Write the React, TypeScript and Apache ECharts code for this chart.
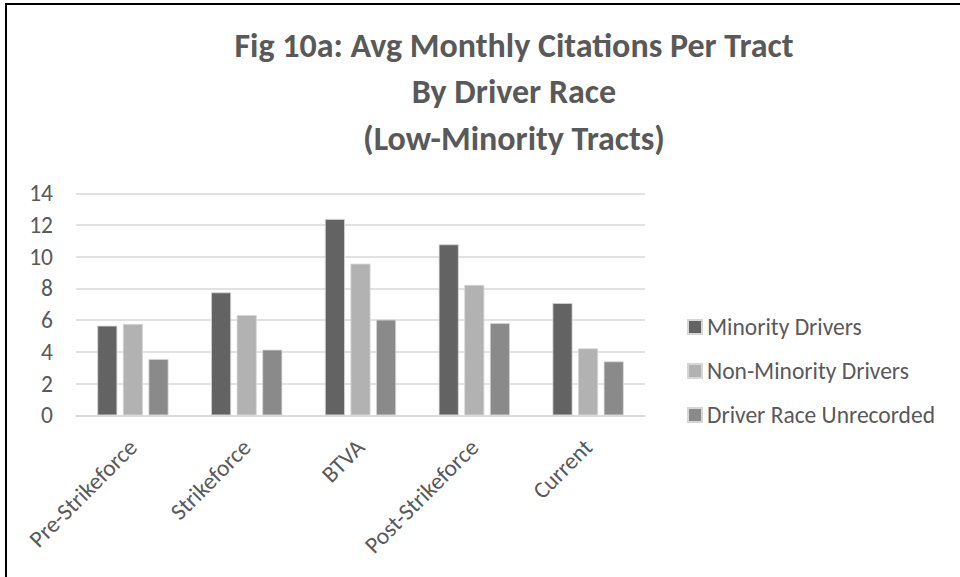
import React, { useEffect, useRef } from "react";
import * as echarts from "echarts";

const categories = ["Pre-Strikeforce", "Strikeforce", "BTVA", "Post-Strikeforce", "Current"];
const minorityDrivers = [5.65, 7.75, 12.38, 10.78, 7.08];
const nonMinorityDrivers = [5.76, 6.32, 9.56, 8.22, 4.22];
const raceUnrecorded = [3.55, 4.14, 6.03, 5.82, 3.4];
const seriesNames = ["Minority Drivers", "Non-Minority Drivers", "Driver Race Unrecorded"];
const seriesColors = ["#636363", "#b2b2b2", "#8a8a8a"];
const yTicks = { min: 0, max: 14, interval: 2 };

const FONT = "Carlito, 'Liberation Sans Narrow', 'Open Sans', sans-serif";

export default function App() {
  const ref = useRef<HTMLDivElement>(null);
  useEffect(() => {
    document.body.style.margin = "0";
    if (!ref.current) return;
    const chart = echarts.init(ref.current, undefined, { renderer: "svg" });
    const data = [minorityDrivers, nonMinorityDrivers, raceUnrecorded];
    chart.setOption({
      animation: false,
      backgroundColor: "#ffffff",
      title: {
        text: "Fig 10a: Avg Monthly Citations Per Tract\nBy Driver Race\n(Low-Minority Tracts)",
        left: 514,
        top: 22,
        padding: 0,
        textAlign: "center",
        textStyle: {
          fontFamily: FONT,
          fontWeight: "bold",
          fontSize: 34,
          lineHeight: 46.5,
          color: "#595959",
        },
      },
      graphic: [
        {
          type: "rect",
          shape: { x: 6, y: 4, width: 1000, height: 700 },
          style: { fill: "none", stroke: "#000000", lineWidth: 2 },
          silent: true,
        },
      ],
      legend: {
        orient: "vertical",
        left: 687,
        top: 315,
        padding: 0,
        itemWidth: 14,
        itemHeight: 14,
        itemGap: 20,
        icon: "rect",
        textStyle: { fontFamily: FONT, fontSize: 23.5, lineHeight: 24, color: "#595959" },
        data: seriesNames,
      },
      grid: { left: 76, top: 193.3, width: 569, height: 222, containLabel: false },
      xAxis: {
        type: "category",
        data: categories,
        axisLine: { lineStyle: { color: "#d9d9d9", width: 1.5 } },
        axisTick: { show: false },
        axisLabel: {
          rotate: 45,
          margin: 28,
          fontFamily: FONT,
          fontSize: 23.5,
          color: "#595959",
          interval: 0,
        },
      },
      yAxis: {
        type: "value",
        min: yTicks.min,
        max: yTicks.max,
        interval: yTicks.interval,
        axisLine: { show: false },
        axisTick: { show: false },
        splitLine: { lineStyle: { color: "#d9d9d9", width: 1.5 } },
        axisLabel: { margin: 23, fontFamily: FONT, fontSize: 23.5, color: "#595959" },
      },
      series: seriesNames.map((name, i) => ({
        name,
        type: "bar",
        data: data[i],
        barWidth: 20,
        barGap: "28%",
        itemStyle: { color: seriesColors[i], borderColor: "#d6d6d6", borderWidth: 0.8 },
      })),
    });
    return () => chart.dispose();
  }, []);
  return <div ref={ref} style={{ width: 960, height: 577 }} />;
}
